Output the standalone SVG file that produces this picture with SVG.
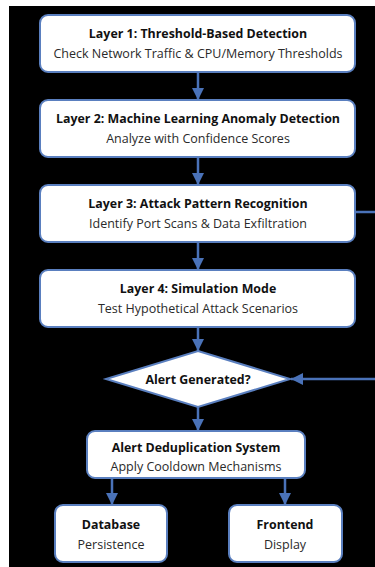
<svg xmlns="http://www.w3.org/2000/svg" width="375" height="567" viewBox="0 0 375 567">
  <defs>
    <marker id="ah" viewBox="0 0 10 10" refX="10" refY="5" markerWidth="4.8" markerHeight="4.8" orient="auto" markerUnits="strokeWidth">
      <path d="M0,0 L10,5 L0,10 Z" fill="#4a72b8"/>
    </marker>
    <style>
      .box { fill: #ffffff; stroke: #5a7fbf; stroke-width: 2; }
      .t { font-family: "Open Sans", "Liberation Sans", sans-serif; font-size: 12.4px; font-weight: bold; fill: #111111; text-anchor: middle; }
      .s { font-family: "Open Sans", "Liberation Sans", sans-serif; font-size: 12.5px; fill: #2a2a2a; text-anchor: middle; }
      .c { fill: none; stroke: #4a72b8; stroke-width: 2.5; }
    </style>
  </defs>
  <rect x="0" y="0" width="375" height="567" fill="#ffffff"/>
  <rect x="9" y="6" width="366" height="561" fill="#000000"/>

  <g id="connectors">
    <line class="c" x1="198" y1="72" x2="198" y2="100" marker-end="url(#ah)"/>
    <line class="c" x1="198" y1="157" x2="198" y2="185" marker-end="url(#ah)"/>
    <line class="c" x1="198" y1="242" x2="198" y2="270" marker-end="url(#ah)"/>
    <line class="c" x1="198" y1="327" x2="198" y2="351" marker-end="url(#ah)"/>
    <line class="c" x1="198" y1="407" x2="198" y2="431" marker-end="url(#ah)"/>
    <line class="c" x1="112" y1="478" x2="112" y2="505" marker-end="url(#ah)"/>
    <line class="c" x1="285" y1="478" x2="285" y2="505" marker-end="url(#ah)"/>
    <line class="c" x1="355" y1="212" x2="375" y2="212"/>
    <line class="c" x1="375" y1="379" x2="291" y2="379" marker-end="url(#ah)"/>
  </g>

  <g id="layer1">
    <rect class="box" x="40" y="15" width="315" height="57" rx="8"/>
    <text class="t" x="198" y="38">Layer 1: Threshold-Based Detection</text>
    <text class="s" x="198" y="58">Check Network Traffic &amp; CPU/Memory Thresholds</text>
  </g>
  <g id="layer2">
    <rect class="box" x="40" y="100" width="315" height="57" rx="8"/>
    <text class="t" x="198" y="123">Layer 2: Machine Learning Anomaly Detection</text>
    <text class="s" x="198" y="143">Analyze with Confidence Scores</text>
  </g>
  <g id="layer3">
    <rect class="box" x="40" y="185" width="315" height="57" rx="8"/>
    <text class="t" x="198" y="208">Layer 3: Attack Pattern Recognition</text>
    <text class="s" x="198" y="228">Identify Port Scans &amp; Data Exfiltration</text>
  </g>
  <g id="layer4">
    <rect class="box" x="40" y="270" width="315" height="57" rx="8"/>
    <text class="t" x="198" y="293">Layer 4: Simulation Mode</text>
    <text class="s" x="198" y="313">Test Hypothetical Attack Scenarios</text>
  </g>
  <g id="decision">
    <polygon class="box" points="198,351 290,379 198,407 106,379"/>
    <text class="t" x="198" y="384">Alert Generated?</text>
  </g>
  <g id="dedup">
    <rect class="box" x="87" y="431" width="218" height="47" rx="8"/>
    <text class="t" x="196" y="452">Alert Deduplication System</text>
    <text class="s" x="196" y="471">Apply Cooldown Mechanisms</text>
  </g>
  <g id="database">
    <rect class="box" x="55" y="505" width="112" height="57" rx="8"/>
    <text class="t" x="111" y="529">Database</text>
    <text class="s" x="111" y="549">Persistence</text>
  </g>
  <g id="frontend">
    <rect class="box" x="229" y="505" width="113" height="57" rx="8"/>
    <text class="t" x="285" y="529">Frontend</text>
    <text class="s" x="285" y="549">Display</text>
  </g>
</svg>
